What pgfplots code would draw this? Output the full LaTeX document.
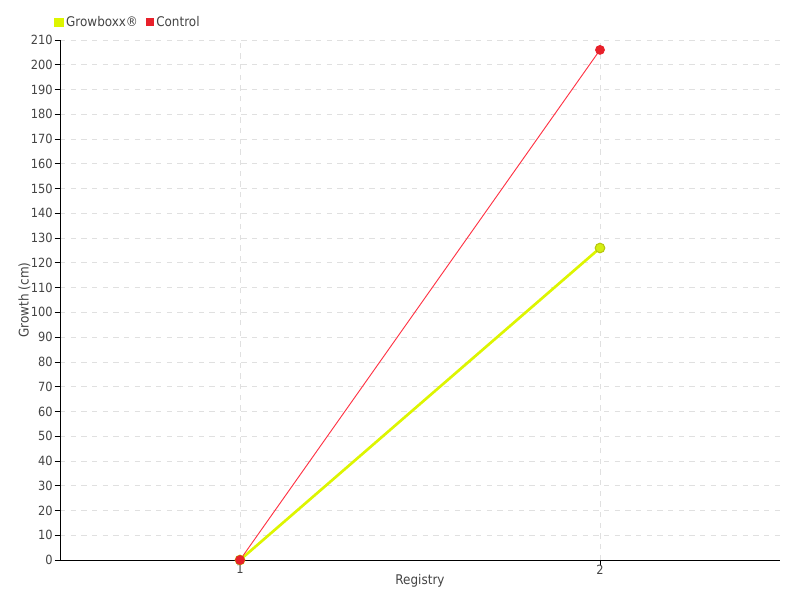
\documentclass[border=0pt]{standalone}
\usepackage{pgfplots}
\pgfplotsset{compat=1.18}
\usepackage{fontspec}
\setmainfont{DejaVu Sans Condensed}
\definecolor{gbline}{HTML}{DDF500}
\definecolor{gbfill}{HTML}{D4EE10}
\definecolor{gbdraw}{HTML}{B8C810}
\definecolor{ctline}{HTML}{FF3344}
\definecolor{ctfill}{HTML}{E8202A}
\definecolor{txt}{HTML}{444444}
\begin{document}
\begin{tikzpicture}
\begin{axis}[
  name=ax,
  scale only axis,
  width=540pt, height=390pt,
  xmin=0.5, xmax=2.5, ymin=0, ymax=210,
  xtick={1,2}, ytick={0,10,...,210},
  axis lines*=left,
  axis line style={black, line width=0.6pt},
  tick align=outside,
  major tick length=4pt,
  tick style={black, line width=0.6pt},
  grid=major,
  major grid style={dashed, color=black!12, dash pattern=on 4pt off 4pt, line width=0.6pt},
  tick label style={font=\fontsize{9.5}{11}\selectfont, text=txt},
  xticklabel style={yshift=4pt},
  yticklabel style={xshift=2pt},
  /pgf/number format/assume math mode=true,
  xlabel={Registry}, ylabel={Growth (cm)},
  label style={font=\fontsize{10}{12}\selectfont, text=txt},
  xlabel style={yshift=6.5pt},
  ylabel style={yshift=-6.5pt},
  legend style={at={(-0.014,1.012)}, anchor=south west, draw=none, fill=none,
    legend columns=2, font=\fontsize{10}{12}\selectfont, text=txt,
    /tikz/every even column/.append style={column sep=4pt}},
  legend cell align=left,
  clip=false,
]
\addplot[gbline, line width=2pt, mark=*, mark size=3.6pt, mark options={fill=gbfill, draw=gbdraw, line width=0.8pt},
  legend image code/.code={\fill[gbline] (0pt,-2.6pt) rectangle (5pt,2.4pt);}]
  coordinates {(1,0) (2,126)};
\addlegendentry{Growboxx®}
\addplot[ctline, line width=0.7pt, mark=*, mark size=3.3pt, mark options={fill=ctfill, draw=ctfill},
  legend image code/.code={\fill[ctfill] (0pt,-2.6pt) rectangle (5pt,2.4pt);}]
  coordinates {(1,0) (2,206)};
\addlegendentry{Control}
\end{axis}
\pgfresetboundingbox
\path ([shift={(-45pt,-30pt)}]ax.south west) rectangle ([shift={(15pt,30pt)}]ax.north east);
\end{tikzpicture}
\end{document}
